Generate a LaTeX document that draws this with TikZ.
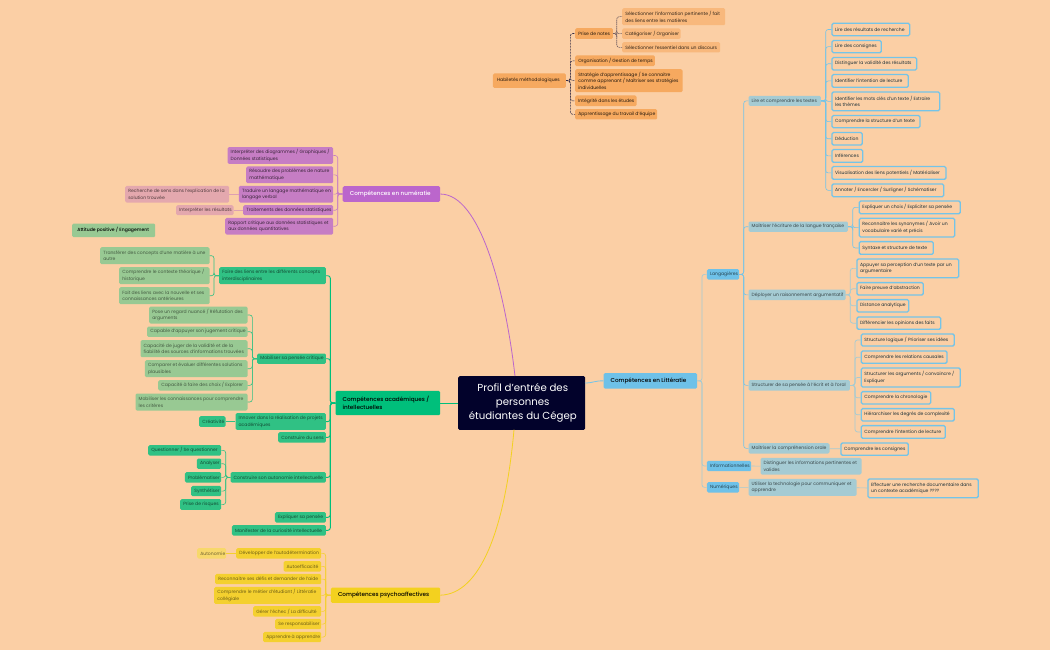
\documentclass[tikz,border=0pt]{standalone}
\usepackage{fontspec}
\setmainfont[BoldFont={Poppins Medium}]{Poppins}
\definecolor{bg}{HTML}{FBCFA5}
\definecolor{navy}{HTML}{02022B}
\definecolor{orA}{HTML}{F6A95F}
\definecolor{orB}{HTML}{F8B87C}
\definecolor{puT}{HTML}{BB66CC}
\definecolor{puA}{HTML}{C67DC4}
\definecolor{puB}{HTML}{E4A8AE}
\definecolor{grT}{HTML}{00BF7B}
\definecolor{grA}{HTML}{30C184}
\definecolor{grB}{HTML}{98C993}
\definecolor{yeT}{HTML}{F3D11F}
\definecolor{yeA}{HTML}{F4D02F}
\definecolor{yeB}{HTML}{F7D86B}
\definecolor{blT}{HTML}{6EC1E8}
\definecolor{blA}{HTML}{A5CBD3}
\definecolor{blL}{HTML}{74C4E8}
\tikzset{x=1pt,y=-1pt,
 box/.style={rounded corners=1.4,inner sep=0pt,align=left,font=\fontsize{4.55}{6.7}\selectfont},
 hl/.style={box,font=\fontsize{5.7}{8.2}\selectfont\bfseries,text=black},
 ora/.style={box,fill=orA,text=black!85!orA},
 orb/.style={box,fill=orB,text=black!80!orB},
 pua/.style={box,fill=puA,text=black!70!puA},
 pub/.style={box,fill=puB,text=black!65!puB},
 gra/.style={box,fill=grA,text=black!60!grA},
 grb/.style={box,fill=grB,text=black!55!grB},
 yea/.style={box,fill=yeA,text=black!55!yeA},
 yeb/.style={box,fill=yeB,text=black!55!yeB},
 bla/.style={box,fill=blT,text=black!65!blT},
 blb/.style={box,fill=blA,text=black!65!blA},
 blc/.style={box,draw=blL,line width=1.3pt,text=black!75!blL},
 lnp/.style={draw=puA,line width=.6pt,rounded corners=2.5},
 lnppb/.style={draw=puB!80!puA,line width=.6pt},
 lng/.style={draw=grA,line width=.6pt,rounded corners=2.5},
 lngt/.style={draw=grT,line width=.9pt,rounded corners=2.5},
 lny/.style={draw=yeA,line width=.6pt,rounded corners=2.5},
 lnb/.style={draw=blL,line width=.6pt,rounded corners=2.5},
 lnbb/.style={draw=blA,line width=.7pt,rounded corners=2.5},
 lno/.style={draw=navy!80!bg,line width=.6pt,dash pattern=on 2pt off 1pt,rounded corners=2.5},
 lnoo/.style={draw=navy!55!bg,line width=.6pt,dash pattern=on 1.5pt off .6pt,rounded corners=2.5},
 curve/.style={line width=.8pt},
}
% name, style, x1, y1, x2, y2, text
\newcommand{\bx}[7]{%
 \pgfmathsetmacro{\bw}{#5-#3}\pgfmathsetmacro{\bh}{#6-#4}\pgfmathsetmacro{\tw}{#5-#3-4.2}%
 \node[#2,anchor=north west,minimum width=\bw pt,minimum height=\bh pt] (#1) at (#3,#4) {\hspace*{2.1pt}\parbox{\tw pt}{#7}};}
% outlined box, given by its outer edges
\newcommand{\bc}[6]{%
 \pgfmathsetmacro{\xa}{#2+.65}\pgfmathsetmacro{\ya}{#3+.65}\pgfmathsetmacro{\xb}{#4-.65}\pgfmathsetmacro{\yb}{#5-.65}%
 \bx{#1}{blc}{\xa}{\ya}{\xb}{\yb}{#6}}
\newcommand{\lk}[4]{\draw[#4] (#1.west) -- (#1.west -| #3) |- (#2.east);}
\newcommand{\rk}[4]{\draw[#4] (#1.east) -- (#1.east -| #3) |- (#2.west);}
\begin{document}
\begin{tikzpicture}
\useasboundingbox (0,0) rectangle (1050,650);
\fill[bg] (0,0) rectangle (1050,650);
\coordinate (vLit) at (702,0);
\coordinate (vLang) at (743.7,0);
\coordinate (vLire) at (825.7,0);
\coordinate (vEcr) at (852.7,0);
\coordinate (vArg) at (850.3,0);
\coordinate (vStr) at (855,0);
\coordinate (vHab) at (570.3,0);
\coordinate (vNot) at (616.7,0);
\coordinate (vNum) at (337.7,0);
\coordinate (vAca) at (330.3,0);
\coordinate (vLie) at (214,0);
\coordinate (vCri) at (252.3,0);
\coordinate (vAut) at (225.7,0);
\coordinate (vPsy) at (325.7,0);
% centre and main topics
\bx{central}{box,fill=navy,text=white,font=\fontsize{10.2}{14.3}\selectfont}{458}{376}{585}{429.7}{\centering Profil d'entrée des\\personnes\\étudiantes du Cégep}
\bx{lit}{hl,fill=blT}{603.3}{373}{697}{388.3}{\hspace*{4pt}Compétences en Littératie}
\bx{aca}{hl,fill=grT}{335.3}{390.7}{440}{415}{\hspace*{4pt}Compétences académiques /\\\hspace*{4pt}intellectuelles}
\bx{num}{hl,fill=puT,text=white}{342.5}{186}{440}{201.7}{\hspace*{4pt}Compétences en numératie}
\bx{psy}{hl,fill=yeT}{330.7}{587.3}{440}{602.7}{\hspace*{4pt}Compétences psychoaffectives}
% Habiletes
\bx{hab}{ora}{492.7}{73.3}{565.7}{87.7}{\hspace*{1pt}Habiletés méthodologiques}
\bx{pri}{ora}{575}{28}{612.7}{38.7}{Prise de notes}
\bx{pra}{orb}{622}{8}{725}{25}{Sélectionner l'information pertinente / fait\\des liens entre les matières}
\bx{prb}{orb}{622}{28.3}{680.3}{38.7}{Catégoriser / Organiser}
\bx{prc}{orb}{622}{42}{720}{52.3}{Sélectionner l'essentiel dans un discours}
\bx{org}{ora}{575}{55.3}{654.7}{66}{Organisation / Gestion de temps}
\bx{str}{ora}{575}{69}{682.3}{92}{Stratégie d'apprentissage / Se connaitre\\comme apprenant / Maîtriser ses stratégies\\individuelles}
\bx{int}{ora}{575}{95.3}{636.3}{106}{Intégrité dans les études}
\bx{app}{ora}{575}{109}{657}{119.3}{Apprentissage du travail d'équipe}
% Litteratie
\bx{lang}{bla}{706.7}{269}{739}{279.3}{Langagières}
\bx{info}{bla}{706.7}{460.7}{751}{471}{Informationnelles}
\bx{nume}{bla}{706.7}{482}{739}{492.3}{Numériques}
\bx{lire}{blb}{748.3}{95.7}{820.7}{105.7}{Lire et comprendre les textes}
\bx{ecr}{blb}{748.3}{221.3}{847.7}{231.7}{Maîtriser l'écriture de la langue française}
\bx{arg}{blb}{748.3}{289.3}{845.3}{300}{Déployer un raisonnement argumentatif}
\bx{stru}{blb}{748.3}{380}{849.7}{390.3}{Structurer de sa pensée à l'écrit et à l'oral}
\bx{ora}{blb}{748.3}{443}{829.3}{453.3}{Maîtriser la compréhension orale}
\bx{dis}{blb}{760.3}{457.7}{861.3}{474.3}{Distinguer les informations pertinentes et\\valides}
\bx{uti}{blb}{748.3}{478.7}{856.3}{495.7}{Utiliser la technologie pour communiquer et\\apprendre}
\bc{la}{830.7}{22}{909.7}{35.7}{Lire des résultats de recherche}
\bc{lb}{830.7}{39.3}{881.3}{52.7}{Lire des consignes}
\bc{lc}{830.7}{56.3}{916.7}{70}{Distinguer la validité des résultats}
\bc{ld}{830.7}{73.3}{908.3}{87.3}{Identifier l'intention de lecture}
\bc{le}{830.7}{90.7}{939.7}{110.7}{Identifier les mots clés d'un texte / Extraire\\les thèmes}
\bc{lf}{830.7}{114.3}{920}{127.7}{Comprendre la structure d'un texte}
\bc{lg}{830.7}{131.3}{862.3}{145}{Déduction}
\bc{lh}{830.7}{148.3}{862.7}{162.3}{Inférences}
\bc{li}{830.7}{165.3}{946}{179.3}{Visualisation des liens potentiels / Matérialiser}
\bc{lj}{830.7}{182.7}{943.7}{196.7}{Annoter / Encercler / Surligner / Schématiser}
\bc{ea}{858}{199.7}{960.3}{213.7}{Expliquer un choix / Expliciter sa pensée}
\bc{eb}{858}{217}{954.7}{237}{Reconnaitre les synonymes / Avoir un\\vocabulaire varié et précis}
\bc{ec}{858}{240.3}{933.3}{254.3}{Syntaxe et structure de texte}
\bc{aa}{855.7}{257.7}{958.7}{277.7}{Appuyer sa perception d'un texte par un\\argumentaire}
\bc{ab}{855.7}{281.3}{923.3}{295}{Faire preuve d'abstraction}
\bc{ac}{855.7}{298.3}{908.7}{312}{Distance analytique}
\bc{ad}{855.7}{315.7}{940.7}{329.3}{Différencier les opinions des faits}
\bc{sa}{860}{332.7}{954.3}{346}{Structure logique / Prioriser ses idées}
\bc{sb}{860}{349.7}{947}{363.3}{Comprendre les relations causales}
\bc{sc}{860}{366.7}{960.3}{387}{Structurer les arguments / convaincre /\\Expliquer}
\bc{sd}{860}{390.3}{930.7}{404}{Comprendre la chronologie}
\bc{se}{860}{407.3}{954.3}{421}{Hiérarchiser les degrés de complexité}
\bc{sf}{860}{424.3}{945.3}{438.3}{Comprendre l'intention de lecture}
\bc{oa}{839.7}{441.7}{908.3}{455.3}{Comprendre les consignes}
\bc{ua}{866.7}{477.7}{978.3}{497.7}{Effectuer une recherche documentaire dans\\un contexte académique ????}
% Numeratie
\bx{na}{pua}{227.3}{147}{333}{163.7}{Interpréter des diagrammes / Graphiques /\\Données statistiques}
\bx{nb}{pua}{246}{166.3}{333}{183}{Résoudre des problèmes de nature\\mathématique}
\bx{nc}{pua}{238.7}{185.7}{333}{202.3}{Traduire un langage mathématique en\\langage verbal}
\bx{nd}{pub}{125}{185.7}{229}{202.3}{Recherche de sens dans l'explication de la\\solution trouvée}
\bx{ne}{pua}{243}{205}{333}{215}{Traitements des données statistiques}
\bx{nf}{pub}{176}{205}{233.3}{215}{Interpréter les résultats}
\bx{ng}{pua}{225}{217.7}{333}{234.3}{Rapport critique aux données statistiques et\\aux données quantitatives}
\bx{att}{grb,text=black,font=\fontsize{4.55}{6.7}\selectfont\bfseries}{72}{223.3}{155}{237}{\hspace*{2pt}Attitude positive / Engagement}
% Academiques
\bx{ga}{gra}{219}{267}{325.7}{284}{Faire des liens entre les différents concepts\\interdisciplinaires}
\bx{gaa}{grb}{100}{247}{209.3}{264}{Transférer des concepts d'une matière à une\\autre}
\bx{gab}{grb}{119}{267}{209.3}{284}{Comprendre le contexte théorique /\\historique}
\bx{gac}{grb}{119}{287}{209.3}{304}{Fait des liens avec la nouvelle et ses\\connaissances antérieures}
\bx{gb}{gra}{257}{353.3}{325.7}{363.7}{Mobiliser sa pensée critique}
\bx{gba}{grb}{149}{306.3}{247.3}{323.3}{Pose un regard nuancé / Réfutation des\\arguments}
\bx{gbb}{grb}{147}{326.3}{247.3}{336.7}{Capable d'appuyer son jugement critique}
\bx{gbc}{grb}{140.3}{340}{247.3}{357}{Capacité de juger de la validité et de la\\fiabilité des sources d'informations trouvées}
\bx{gbd}{grb}{144.7}{360}{247.3}{377}{Comparer et évaluer différentes solutions\\plausibles}
\bx{gbe}{grb}{158}{380}{247.3}{390.3}{Capacité à faire des choix / Explorer}
\bx{gbf}{grb}{135.3}{393.3}{247.3}{410.3}{Mobiliser les connaissances pour comprendre\\les critères}
\bx{gc}{gra}{235.3}{413}{325.7}{429.7}{Innover dans la réalisation de projets\\académiques}
\bx{gca}{gra}{199}{416}{225.3}{426.7}{Créativité}
\bx{gd}{gra}{278}{432}{325.7}{442.3}{Construire du sens}
\bx{ge}{gra}{230.3}{472}{325.7}{482.3}{Construire son autonomie intellectuelle}
\bx{gea}{gra}{148}{445}{221}{455.3}{Questionner / Se questionner}
\bx{geb}{gra}{196.7}{458.3}{221}{468.7}{Analyser}
\bx{gec}{gra}{184.7}{472}{221}{482.3}{Problématiser}
\bx{ged}{gra}{191}{485.7}{221}{496}{Synthétiser}
\bx{gee}{gra}{180}{499}{221}{509.7}{Prise de risques}
\bx{gf}{gra}{274.7}{512}{325.7}{522.3}{Expliquer sa pensée}
\bx{gg}{gra}{231.7}{525}{325.7}{535.3}{Manifester de la curiosité intellectuelle}
% Psychoaffectives
\bx{ya}{yea}{236}{548}{321}{558.3}{Développer de l'autodétermination}
\bx{yaa}{yeb}{197}{548}{226}{558.3}{Autonomie}
\bx{yb}{yea}{283.3}{561}{321}{571.3}{Autoefficacité}
\bx{yc}{yea}{215}{573.7}{321}{584}{Reconnaitre ses défis et demander de l'aide}
\bx{yd}{yea}{214}{586.7}{321}{603.7}{Comprendre le métier d'étudiant / Littératie\\collégiale}
\bx{ye}{yea}{253}{606}{321}{616.3}{Gérer l'échec / La difficulté}
\bx{yf}{yea}{275}{618.7}{321}{629}{Se responsabiliser}
\bx{yg}{yea}{263}{631.7}{321}{642}{Apprendre à apprendre}
% curves from the centre
\coordinate (cLit) at (585,383);
\coordinate (cTop) at (515,376);
\coordinate (cBot) at (514,429.7);
\draw[curve,draw=blL] (cLit) .. controls (593,383) and (595,380.6) .. (lit.west);
\draw[curve,draw=grT] (central.west |- aca.east) -- (aca.east);
\draw[curve,draw=puT] (cTop) .. controls (505,290) and (480,194) .. (num.east);
\draw[curve,draw=yeT] (cBot) .. controls (505,530) and (480,594) .. (psy.east);
% connectors
\foreach \c in {lang,info,nume}{\rk{lit}{\c}{vLit}{lnbb}}
\foreach \c in {lire,ecr,arg,stru,ora}{\rk{lang}{\c}{vLang}{lnb}}
\foreach \c in {la,lb,lc,ld,le,lf,lg,lh,li,lj}{\rk{lire}{\c}{vLire}{lnb}}
\foreach \c in {ea,eb,ec}{\rk{ecr}{\c}{vEcr}{lnb}}
\foreach \c in {aa,ab,ac,ad}{\rk{arg}{\c}{vArg}{lnbb}}
\foreach \c in {sa,sb,sc,sd,se,sf}{\rk{stru}{\c}{vStr}{lnbb}}
\draw[lnbb] (ora) -- (oa);
\draw[lnbb] (info) -- (dis);
\draw[lnbb] (nume) -- (uti);
\draw[lnbb] (uti) -- (ua);
\foreach \c in {pri,org,str,int,app}{\rk{hab}{\c}{vHab}{lno}}
\foreach \c in {pra,prb,prc}{\rk{pri}{\c}{vNot}{lnoo}}
\foreach \c in {na,nb,nc,ne,ng}{\lk{num}{\c}{vNum}{lnp}}
\draw[lnppb] (nc) -- (nd);
\draw[lnppb] (ne) -- (nf);
\foreach \c in {ga,gb,gc,gd,ge,gf,gg}{\lk{aca}{\c}{vAca}{lngt}}
\foreach \c in {gaa,gab,gac}{\lk{ga}{\c}{vLie}{lng}}
\foreach \c in {gba,gbb,gbc,gbd,gbe,gbf}{\lk{gb}{\c}{vCri}{lng}}
\draw[lng] (gc) -- (gca);
\foreach \c in {gea,geb,gec,ged,gee}{\lk{ge}{\c}{vAut}{lng}}
\foreach \c in {ya,yb,yc,yd,ye,yf,yg}{\lk{psy}{\c}{vPsy}{lny}}
\draw[lny] (ya) -- (yaa);
\end{tikzpicture}
\end{document}
